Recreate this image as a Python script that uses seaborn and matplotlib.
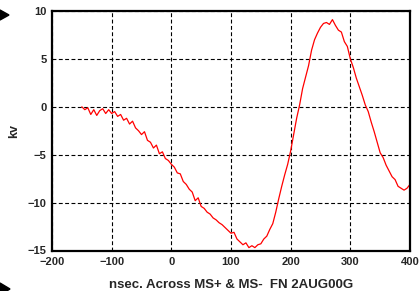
import matplotlib
matplotlib.use("Agg")
import matplotlib.pyplot as plt
from matplotlib.patches import Polygon
from matplotlib.ticker import MultipleLocator
import numpy as np
import pandas as pd
import seaborn as sns

x_ns = list(range(-150, 401, 5))
kv = [0.0, -0.3, -0.1, -0.8, -0.3, -0.9, -0.4, -0.2, -0.7, -0.3,
      -0.7, -0.5, -1.0, -0.8, -1.4, -1.2, -1.8, -1.5, -2.2, -2.5,
      -2.9, -2.6, -3.5, -3.7, -4.3, -4.0, -4.9, -4.7, -5.4, -5.6,
      -6.0, -6.3, -6.9, -7.0, -7.8, -8.1, -8.6, -8.9, -9.8, -9.5,
      -10.4, -10.6, -11.0, -11.2, -11.6, -11.8, -12.1, -12.3, -12.6, -12.9,
      -13.2, -13.1, -13.8, -14.1, -14.4, -14.2, -14.7, -14.5, -14.7, -14.4,
      -14.3, -13.8, -13.5, -12.8, -12.2, -11.0, -9.6, -8.3, -7.1, -6.0,
      -4.6, -2.9, -1.2, 0.2, 1.9, 3.1, 4.3, 5.9, 7.0, 7.7,
      8.3, 8.7, 8.8, 8.6, 9.1, 8.5, 8.0, 7.8, 6.8, 6.3,
      5.0, 4.1, 3.0, 2.1, 1.2, 0.2, -0.5, -1.6, -2.6, -3.7,
      -4.8, -5.3, -6.1, -6.7, -7.3, -7.6, -8.3, -8.5, -8.7, -8.5,
      -8.1]

x_ticks = [-200, -100, 0, 100, 200, 300, 400]
y_ticks = [-15, -10, -5, 0, 5, 10]
x_label = "nsec. Across MS+ & MS-  FN 2AUG00G"
y_label = "kv"

df = pd.DataFrame({"x": x_ns, "kv": kv})

sns.set_style("white")
plt.rcParams["font.family"] = ["Liberation Sans", "DejaVu Sans"]
plt.rcParams["font.weight"] = "bold"

fig = plt.figure(figsize=(4.2, 2.91), dpi=100)
ax = fig.add_axes([52 / 420, (291 - 250.5) / 291, 358 / 420, 239.5 / 291])

sns.lineplot(data=df, x="x", y="kv", ax=ax, color="#ff0000", linewidth=0.9)

ax.set_xlim(-200, 400)
ax.set_ylim(-15, 10)
ax.set_xticks(x_ticks)
ax.set_yticks(y_ticks)
ax.xaxis.set_minor_locator(MultipleLocator(100 / 6))
ax.yaxis.set_minor_locator(MultipleLocator(1))
ax.tick_params(axis="both", which="major", direction="in", length=4, width=1,
               labelsize=8, color="black")
ax.tick_params(axis="x", which="major", pad=5)
ax.tick_params(axis="y", which="major", pad=4)
ax.tick_params(axis="both", which="minor", direction="in", length=2.5, width=1,
               color="black")
for lab in ax.get_xticklabels() + ax.get_yticklabels():
    lab.set_fontweight("bold")

ax.grid(True, which="major", color="black", linestyle=(0, (3.5, 2.2)), linewidth=0.8)
for s in ax.spines.values():
    s.set_visible(True)
    s.set_color("black")
    s.set_linewidth(1.6)

ax.set_xlabel(x_label, fontsize=9.5, fontweight="bold", labelpad=8)
ax.set_ylabel(y_label, fontsize=9, fontweight="bold", labelpad=5)

# decorative arrow markers at the left edge
fig.patches.append(Polygon([[0, 1 - 10 / 291], [9 / 420, 1 - 15 / 291], [0, 1 - 20 / 291]],
                           closed=True, transform=fig.transFigure, color="black"))
fig.patches.append(Polygon([[0, 1 - 283 / 291], [10 / 420, 1 - 289 / 291], [0, 1 - 295 / 291]],
                           closed=True, transform=fig.transFigure, color="black"))

fig.savefig("out.png", dpi=100)
